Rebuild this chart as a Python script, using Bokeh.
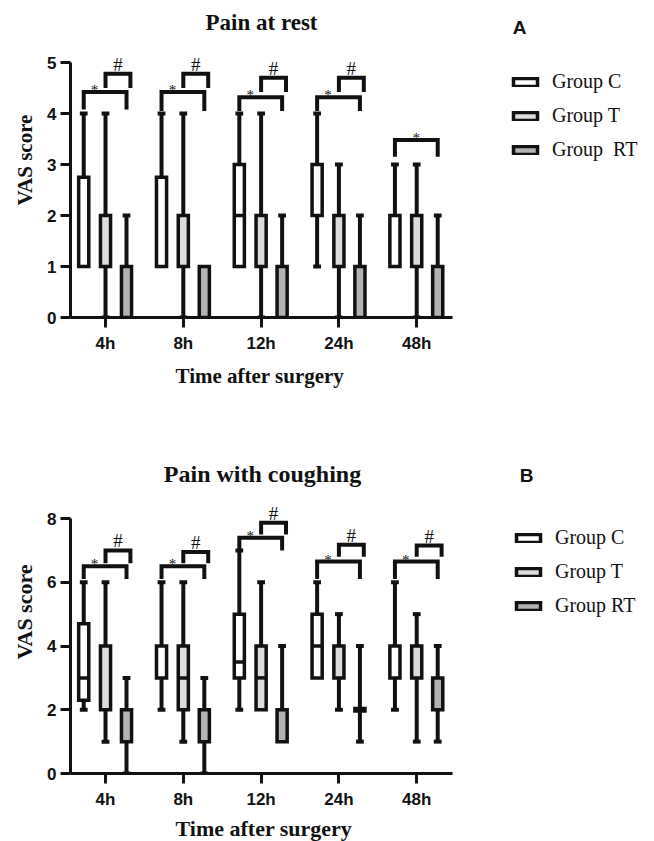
from bokeh.plotting import figure
from bokeh.models import Range1d, FixedTicker, Legend, LegendItem, Label, LabelSet, ColumnDataSource, Title
from bokeh.layouts import column
from bokeh.embed import file_html
from bokeh.resources import INLINE

# ---------------- data ----------------
times = ["4h", "8h", "12h", "24h", "48h"]
pos = [1, 2, 3, 4, 5]

# Panel A: Pain at rest  (min, q1, median, q3, max)
a_c_min = [1, 1, 1, 1, 1]
a_c_q1 = [1, 1, 1, 2, 1]
a_c_med = [1, 1, 2, 2, 1]
a_c_q3 = [2.75, 2.75, 3, 3, 2]
a_c_max = [4, 4, 4, 4, 3]

a_t_min = [0, 0, 0, 0, 0]
a_t_q1 = [1, 1, 1, 1, 1]
a_t_med = [1, 1, 1, 1, 1]
a_t_q3 = [2, 2, 2, 2, 2]
a_t_max = [4, 4, 4, 3, 3]

a_rt_min = [0, 0, 0, 0, 0]
a_rt_q1 = [0, 0, 0, 0, 0]
a_rt_med = [0, 0, 0, 0, 0]
a_rt_q3 = [1, 1, 1, 1, 1]
a_rt_max = [2, 1, 2, 2, 2]

# significance brackets, panel A (level of bar, bottom of legs); None = no bracket
a_star_top = [4.42, 4.42, 4.32, 4.32, 3.48]
a_star_leg = [4.08, 4.05, 4.05, 4.05, 3.15]
a_hash_top = [4.78, 4.78, 4.70, 4.70, None]
a_hash_leg = [4.50, 4.50, 4.42, 4.42, None]

# Panel B: Pain with coughing
b_c_min = [2, 2, 2, 3, 2]
b_c_q1 = [2.3, 3, 3, 3, 3]
b_c_med = [3, 3, 3.5, 4, 3]
b_c_q3 = [4.7, 4, 5, 5, 4]
b_c_max = [6, 6, 7, 6, 6]

b_t_min = [1, 1, 2, 2, 1]
b_t_q1 = [2, 2, 2, 3, 3]
b_t_med = [4, 3, 3, 4, 4]
b_t_q3 = [4, 4, 4, 4, 4]
b_t_max = [6, 6, 6, 5, 5]

b_rt_min = [0, 0, 1, 1, 1]
b_rt_q1 = [1, 1, 1, 2, 2]
b_rt_med = [2, 2, 2, 2, 2]
b_rt_q3 = [2, 2, 2, 2, 3]
b_rt_max = [3, 3, 4, 4, 4]

b_star_top = [6.50, 6.50, 7.40, 6.65, 6.65]
b_star_leg = [6.10, 6.10, 7.00, 6.10, 6.10]
b_hash_top = [7.00, 6.95, 7.87, 7.18, 7.15]
b_hash_leg = [6.60, 6.60, 7.50, 6.80, 6.80]

a_legend = ["Group C", "Group T", "Group  RT"]
b_legend = ["Group C", "Group T", "Group RT"]
a_yticks = [0, 1, 2, 3, 4, 5]
b_yticks = [0, 2, 4, 6, 8]

# ---------------- style ----------------
OFFS = [-0.28, 0.0, 0.27]
FILLS = ["white", "#dcdcdc", "#b3b3b3"]
BW = 0.13
CAP = 0.05
INK = "#111111"
SERIF = "Liberation Serif"
SANS = "Liberation Sans"
FRAME_W = 576
PX_PER_X = 77.8
X0 = 0.55
X_AXIS_END = 5.46


def panel(title, title_size, title_xy, letter, letter_xy, labels, legend_loc, stats,
          y_axis_max, px_per_y, frame_h, yticks,
          star_top, star_leg, hash_top, hash_leg,
          top_border, bottom_border, tick_std, lab_std, lab_size):
    p = figure(frame_width=FRAME_W, frame_height=frame_h, output_backend="svg", toolbar_location=None,
               x_range=Range1d(X0, X0 + FRAME_W / PX_PER_X), y_range=Range1d(0, frame_h / px_per_y),
               min_border_left=70, min_border_right=0,
               min_border_top=top_border, min_border_bottom=bottom_border)
    p.outline_line_color = None
    p.xgrid.grid_line_color = None
    p.ygrid.grid_line_color = None
    p.background_fill_color = "white"

    for ax in (p.xaxis[0], p.yaxis[0]):
        ax.axis_line_width = 3
        ax.axis_line_color = INK
        ax.major_tick_line_width = 3
        ax.major_tick_line_color = INK
        ax.major_tick_out = 10
        ax.major_tick_in = 0
        ax.minor_tick_line_color = None
        ax.major_label_text_font = SANS
        ax.major_label_text_font_style = "bold"
        ax.major_label_text_font_size = "17px"
        ax.major_label_text_color = INK
        ax.axis_label_text_font = SERIF
        ax.axis_label_text_font_style = "bold"
        ax.axis_label_text_font_size = lab_size
        ax.axis_label_text_color = INK

    p.xaxis.ticker = FixedTicker(ticks=pos)
    p.xaxis.major_label_overrides = {x: t for x, t in zip(pos, times)}
    p.xaxis.major_label_standoff = tick_std
    p.xaxis.bounds = (X0, X_AXIS_END)
    p.yaxis.ticker = FixedTicker(ticks=yticks)
    p.yaxis.axis_label = "VAS score"
    p.yaxis.major_label_standoff = 4
    p.yaxis.axis_label_standoff = 7
    p.yaxis.bounds = (0, y_axis_max)

    # x-axis title, centred under the axis (not under the whole, wider frame)
    p.add_layout(Title(text="Time after surgery", align="left", offset=105, standoff=lab_std,
                       text_font=SERIF, text_font_style="bold", text_font_size=lab_size,
                       text_color=INK), "below")

    box_renderers = []
    for gi, (mn, q1, md, q3, mx) in enumerate(stats):
        xs = [t + OFFS[gi] for t in pos]
        p.segment(x0=xs, x1=xs, y0=mn, y1=mx, line_width=4, line_color=INK)
        cx, cy = [], []
        for x, a, b, c, d in zip(xs, mn, q1, q3, mx):
            if a < b:
                cx.append(x); cy.append(a)
            if d > c:
                cx.append(x); cy.append(d)
        p.segment(x0=[x - CAP for x in cx], x1=[x + CAP for x in cx], y0=cy, y1=cy,
                  line_width=4, line_color=INK)
        r = p.vbar(x=xs, width=BW, bottom=q1, top=q3, fill_color=FILLS[gi],
                   line_color=INK, line_width=3.5, line_join="miter")
        box_renderers.append(r)
        # collapsed boxes (q1 == q3) drawn as a thick flat bar
        fx = [x for x, b, c in zip(xs, q1, q3) if b == c]
        fy = [b for b, c in zip(q1, q3) if b == c]
        if fx:
            p.rect(x=fx, y=fy, width=BW + 0.045, height=6, height_units="screen",
                   fill_color=INK, line_color=None)
        mx_, my_ = [], []
        for x, b, m, c in zip(xs, q1, md, q3):
            if b < m < c:
                mx_.append(x); my_.append(m)
        p.segment(x0=[x - BW / 2 for x in mx_], x1=[x + BW / 2 for x in mx_], y0=my_, y1=my_,
                  line_width=3.5, line_color=INK)

    # brackets
    bxs, bys = [], []
    sx, sy, hx, hy = [], [], [], []
    for t, st, sl, ht, hl in zip(pos, star_top, star_leg, hash_top, hash_leg):
        xl, xr = t + OFFS[0], t + OFFS[2]
        bxs.append([xl, xl, xr, xr]); bys.append([sl, st, st, sl])
        sx.append(t - 0.14 if ht is not None else (xl + xr) / 2); sy.append(st)
        if ht is not None:
            xl2, xr2 = t + OFFS[1], t + OFFS[2] + 0.05
            bxs.append([xl2, xl2, xr2, xr2]); bys.append([hl, ht, ht, hl])
            hx.append((xl2 + xr2) / 2); hy.append(ht)
    p.multi_line(xs=bxs, ys=bys, line_width=4, line_color=INK, line_join="miter")

    star_src = ColumnDataSource(dict(x=sx, y=sy, t=["*"] * len(sx)))
    hash_src = ColumnDataSource(dict(x=hx, y=hy, t=["#"] * len(hx)))
    p.add_layout(LabelSet(x="x", y="y", text="t", source=star_src, text_font=SERIF,
                          text_font_size="15px", text_align="center", text_baseline="alphabetic",
                          y_offset=-3, text_color=INK))
    p.add_layout(LabelSet(x="x", y="y", text="t", source=hash_src, text_font=SERIF,
                          text_font_size="19px", text_align="center", text_baseline="alphabetic",
                          y_offset=3, text_color=INK))

    legend = Legend(items=[LegendItem(label=l, renderers=[r]) for l, r in zip(labels, box_renderers)],
                    location=legend_loc, padding=0, margin=0, spacing=11,
                    label_height=20, glyph_height=10, glyph_width=30, label_standoff=12,
                    label_text_font=SERIF, label_text_font_size="20px", label_text_color=INK,
                    border_line_color=None, background_fill_alpha=0)
    p.add_layout(legend)

    p.add_layout(Label(x=title_xy[0], y=title_xy[1], x_units="screen", y_units="screen",
                       text=title, text_font=SERIF, text_font_style="bold", text_font_size=title_size,
                       text_align="center", text_baseline="middle", text_color=INK))
    p.add_layout(Label(x=letter_xy[0], y=letter_xy[1], x_units="screen", y_units="screen",
                       text=letter, text_font=SANS, text_font_style="bold", text_font_size="19px",
                       text_align="center", text_baseline="middle", text_color=INK))
    return p


# panel A: y-axis 0 at page y 317, 5 at y 62 -> 51 px per unit; frame from y 2 to 317
pa = panel("Pain at rest", "23px", (191, 295), "A", (449, 290), a_legend, (440, 156),
           [(a_c_min, a_c_q1, a_c_med, a_c_q3, a_c_max),
            (a_t_min, a_t_q1, a_t_med, a_t_q3, a_t_max),
            (a_rt_min, a_rt_q1, a_rt_med, a_rt_q3, a_rt_max)],
           5, 51.0, 315, a_yticks, a_star_top, a_star_leg, a_hash_top, a_hash_leg,
           2, 128, 6, 12, "21px")

# panel B: figure starts at page y 445; 0 at y 773, 8 at y 518; frame from y 450 to 773
pb = panel("Pain with coughing", "24px", (192, 300), "B", (456, 298), b_legend, (443, 156),
           [(b_c_min, b_c_q1, b_c_med, b_c_q3, b_c_max),
            (b_t_min, b_t_q1, b_t_med, b_t_q3, b_t_max),
            (b_rt_min, b_rt_q1, b_rt_med, b_rt_q3, b_rt_max)],
           8, 31.875, 323, b_yticks, b_star_top, b_star_leg, b_hash_top, b_hash_leg,
           5, 66, 6, 5, "22px")

layout = column(pa, pb, spacing=0)
open("out.html", "w").write(file_html(layout, INLINE))
